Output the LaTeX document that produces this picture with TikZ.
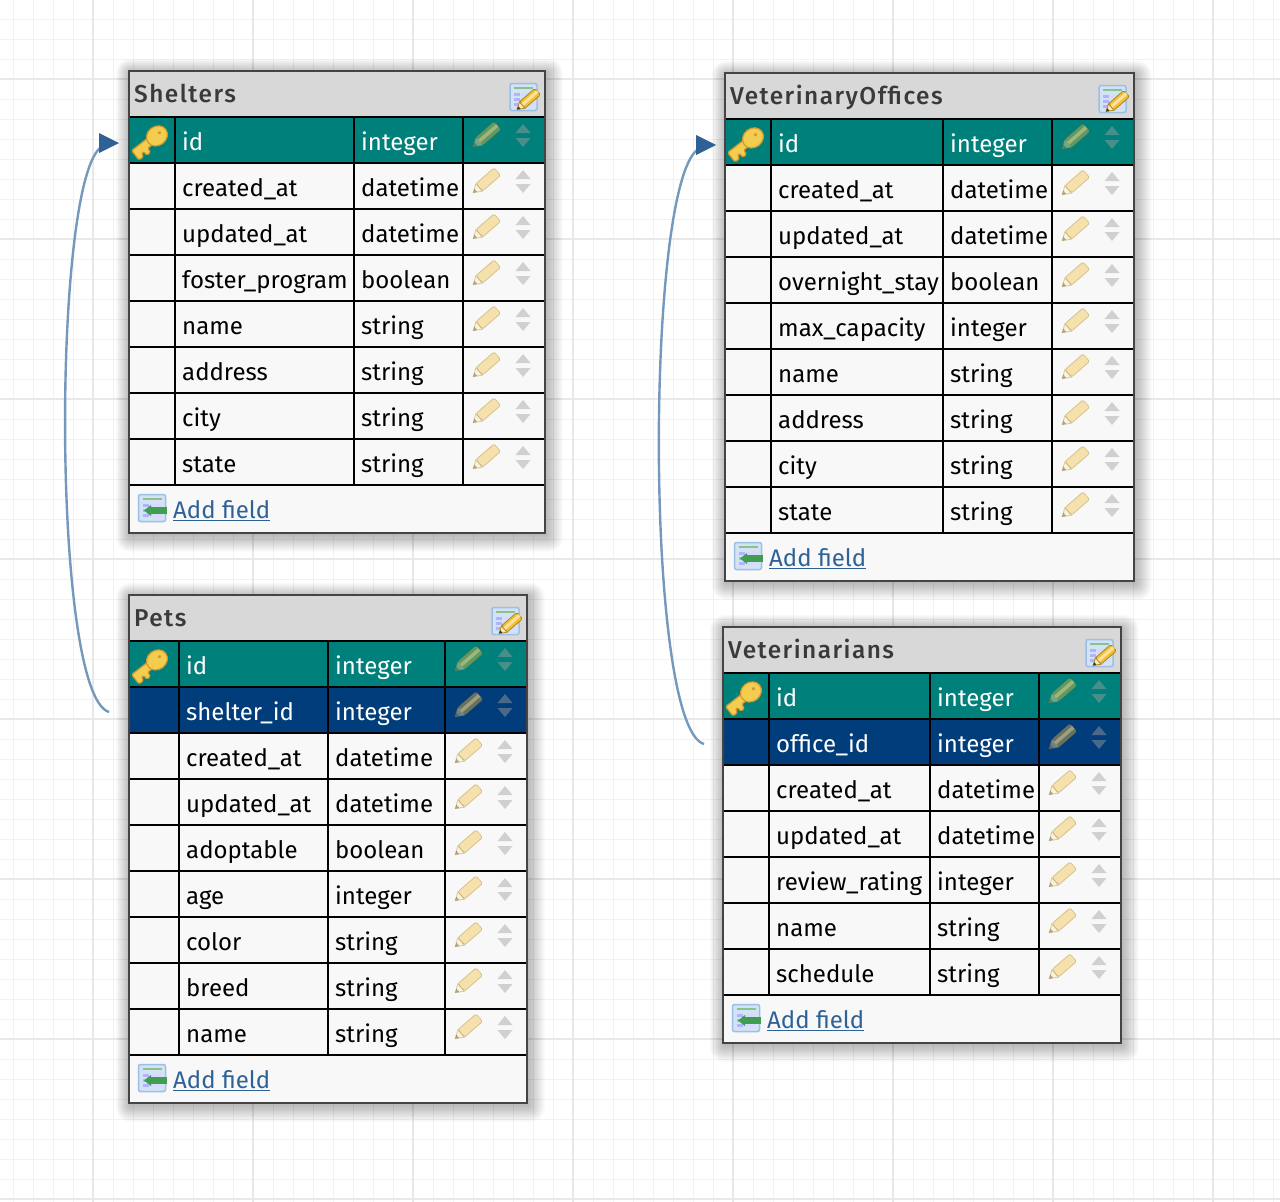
\documentclass[tikz,border=0pt]{standalone}
\usepackage{fontspec}
\setmainfont{Fira Sans}
\newfontfamily\titlefont[LetterSpace=6]{Fira Sans Medium}
\usetikzlibrary{calc}
\definecolor{rowp}{HTML}{00807A}
\definecolor{rowf}{HTML}{023D7B}
\definecolor{rown}{HTML}{F8F8F8}
\definecolor{textp}{HTML}{FFFFFF}
\definecolor{textf}{HTML}{FFFFFF}
\definecolor{textn}{HTML}{000000}
\definecolor{headfill}{HTML}{D8D8D8}
\definecolor{frame}{HTML}{444444}
\definecolor{titletext}{HTML}{3A3A3A}
\definecolor{linkblue}{HTML}{2E6296}
\definecolor{curveblue}{HTML}{7499BD}
\definecolor{gridmin}{HTML}{F1F1F1}
\definecolor{gridmaj}{HTML}{E8E8E8}
\definecolor{pencilrow}{HTML}{F2C040}
\definecolor{pencilhead}{HTML}{F5C030}
\definecolor{keyfill}{HTML}{F3CC50}
\definecolor{keyedge}{HTML}{CC9A30}
\definecolor{tabfill}{HTML}{D3E3F6}
\definecolor{tabedge}{HTML}{9DBFE6}
\definecolor{tabgreen}{HTML}{8CC08C}
\definecolor{addgreen}{HTML}{3F9E52}
\definecolor{updown}{HTML}{A0A0A0}
\newcommand{\pencildraw}[1]{%
    \begin{scope}[rotate=41]
      \fill[draw=#1!70!black,line width=.8pt,fill=#1,rounded corners=1.5pt] (-9,-5) rectangle (15,5);
      \fill[#1!45!white] (-9,-2) rectangle (15,1.5);
      \fill[draw=#1!70!black,line width=.8pt,fill=#1!35!white] (-9,-5) -- (-17,0) -- (-9,5) -- cycle;
      \fill[#1!30!black] (-17,0) -- (-13.5,-2.2) -- (-13.5,2.2) -- cycle;
    \end{scope}%
}
\tikzset{
  celltext/.style={anchor=base west,inner sep=0pt,font=\fontsize{24}{29}\selectfont},
  headtext/.style={anchor=base west,inner sep=0pt,text=titletext,font=\fontsize{24.4}{29}\selectfont\titlefont},
  addtext/.style={anchor=base west,inner sep=0pt,text=linkblue,font=\fontsize{24}{29}\selectfont},
  relcurve/.style={draw=curveblue,line width=2.4pt},
  relhead/.style={fill=linkblue},
  rowpencil/.pic={\pencildraw{pencilrow}},
  headpencil/.pic={\pencildraw{pencilhead}},
  updownicon/.pic={
    \fill[updown] (-7.5,-2.5) -- (7.5,-2.5) -- (0,-11.5) -- cycle;
    \fill[updown] (-7.5,2.5) -- (7.5,2.5) -- (0,11.5) -- cycle;
  },
  keyicon/.pic={
    \begin{scope}[rotate=38]
      \fill[draw=keyedge,line width=1.2pt,fill=keyfill,rounded corners=1.5pt]
        (-24,-4) -- (-3,-4) -- (-3,4) -- (-10,4) -- (-10,9) -- (-15,9) -- (-15,4) -- (-18,4) -- (-18,8) -- (-24,8) -- cycle;
      \fill[draw=keyedge,line width=1.2pt,fill=keyfill] (5,0) ellipse (11 and 9.5);
      \fill[keyedge] (9,-1) circle (1.8);
    \end{scope}
  },
  tableicon/.pic={
    \fill[draw=tabedge,line width=1.5pt,fill=tabfill,rounded corners=2pt] (0,0) rectangle (27,27);
    \fill[tabgreen] (4,3.5) rectangle (23,5.5);
    \foreach \gy in {9,14,19}{
      \fill[blue!30!white] (4,\gy) rectangle (10,\gy+3);
      \fill[blue!15!white] (12,\gy) rectangle (23,\gy+3);
    }
  },
}
\newcommand{\dbgeom}[7]{\def\xa{#1}\def\ya{#2}\def\xb{#3}\def\yb{#4}\def\ca{#5}\def\cb{#6}\def\cc{#7}}
\newcommand{\dbtable}[3]{%
  % soft shadow
  \foreach \s in {1,...,14}{
    \fill[black,opacity=.018,rounded corners=\s pt] (\xa-\s*1.0+1,\ya-\s*1.0+2) rectangle (\xb+\s*1.2+1,\yb+\s*1.2+2);
  }
  \fill[headfill] (\xa,\ya) rectangle (\xb,\ya+46);
  \fill[rown] (\xa,\ya+46) rectangle (\xb,\yb);
  \node[headtext] (#1-title) at (\xa+5,\ya+31) {#2};
  \pic at (\xb-35,\ya+12.5) {tableicon};
  \pic[scale=.85] at (\xb-17,\ya+29) {headpencil};
  \foreach \nm/\ty/\k [count=\i] in {#3}{
    \pgfmathsetmacro\rt{\ya+46*\i}
    \fill[row\k] (\xa,\rt) rectangle (\xb,\rt+46);
    \draw[black,line width=2pt] (\xa,\rt) -- (\xb,\rt);
    \draw[black,line width=2pt] (\xa,\rt+46) -- (\xb,\rt+46);
    \node[celltext,text=text\k] (#1-\i-name) at (\ca+7,\rt+33.5) {\nm};
    \node[celltext,text=text\k] (#1-\i-type) at (\cb+7,\rt+33.5) {\ty};
    \pic[opacity=.4] at (\cc+23,\rt+18.5) {rowpencil};
    \pic[opacity=.45] at (\cc+60,\rt+18.5) {updownicon};
  }
  \foreach \cx in {\ca,\cb,\cc}{
    \draw[black,line width=2pt] (\cx,\ya+46) -- (\cx,\yb-48);
  }
  \pic at (\xa+9.5,\yb-38.5) {tableicon};
  \fill[addgreen] (\xa+21,\yb-26) rectangle (\xa+38,\yb-19);
  \fill[addgreen] (\xa+15,\yb-22.5) -- (\xa+22,\yb-28) -- (\xa+22,\yb-17) -- cycle;
  \node[addtext] (#1-add) at (\xa+44,\yb-14.5) {\underline{Add field}};
  \draw[frame,line width=2pt] (\xa,\ya) rectangle (\xb,\yb);
}
\begin{document}
\begin{tikzpicture}[x=1pt,y=-1pt]
\useasboundingbox (0,0) rectangle (1280,1202);
\fill[white] (0,0) rectangle (1280,1202);
% background grid
\foreach \gx in {13,33,...,1273}{\draw[gridmin,line width=1pt] (\gx,0) -- (\gx,1202);}
\foreach \gy in {19,39,...,1199}{\draw[gridmin,line width=1pt] (0,\gy) -- (1280,\gy);}
\foreach \gx in {93,253,...,1213}{\draw[gridmaj,line width=2pt] (\gx,0) -- (\gx,1202);}
\foreach \gy in {79,239,...,1199}{\draw[gridmaj,line width=2pt] (0,\gy) -- (1280,\gy);}

\dbgeom{129}{71}{545}{533}{175}{354}{463}
\dbtable{S}{Shelters}{id/integer/p,created\_at/datetime/n,updated\_at/datetime/n,foster\_program/boolean/n,name/string/n,address/string/n,city/string/n,state/string/n}
\pic at (153,139) {keyicon};

\dbgeom{129}{595}{527}{1103}{179}{328}{445}
\dbtable{P}{Pets}{id/integer/p,shelter\_id/integer/f,created\_at/datetime/n,updated\_at/datetime/n,adoptable/boolean/n,age/integer/n,color/string/n,breed/string/n,name/string/n}
\pic at (153,663) {keyicon};

\dbgeom{725}{73}{1134}{581}{771}{943}{1052}
\dbtable{O}{VeterinaryOffices}{id/integer/p,created\_at/datetime/n,updated\_at/datetime/n,overnight\_stay/boolean/n,max\_capacity/integer/n,name/string/n,address/string/n,city/string/n,state/string/n}
\pic at (749,141) {keyicon};

\dbgeom{723}{627}{1121}{1043}{769}{930}{1039}
\dbtable{V}{Veterinarians}{id/integer/p,office\_id/integer/f,created\_at/datetime/n,updated\_at/datetime/n,review\_rating/integer/n,name/string/n,schedule/string/n}
\pic at (747,695) {keyicon};

% relations
\coordinate (P-out) at (109,712);
\coordinate (S-base) at (100,148);
\coordinate (S-in) at (119,143);
\draw[relcurve] (P-out) .. controls (52,695) and (52,190) .. (S-base);
\fill[relhead] (S-in) -- (99,133) -- (99,153) -- cycle;
\coordinate (V-out) at (704,744);
\coordinate (O-base) at (697,150);
\coordinate (O-in) at (716,145);
\draw[relcurve] (V-out) .. controls (645,727) and (645,192) .. (O-base);
\fill[relhead] (O-in) -- (696,135) -- (696,155) -- cycle;
\end{tikzpicture}
\end{document}
